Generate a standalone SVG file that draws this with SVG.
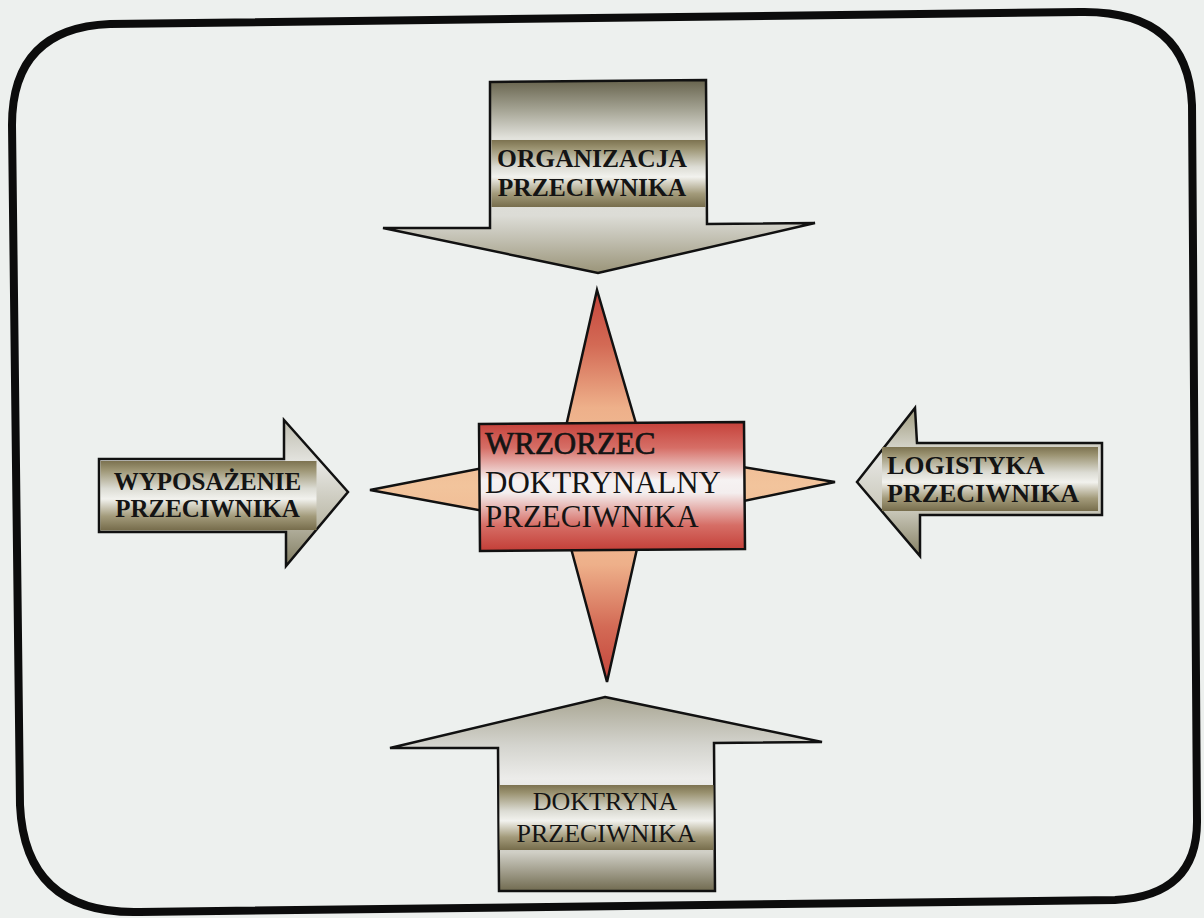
<svg xmlns="http://www.w3.org/2000/svg" width="1204" height="918" viewBox="0 0 1204 918">
<defs>
<style>
.shape{stroke:#111;stroke-width:2.5;stroke-linejoin:miter}
.lbl{font-family:"Liberation Serif","Times New Roman",serif;fill:#141414}
.b{font-weight:bold}
.heavy{stroke:#141414;stroke-width:0.7}
</style>
<linearGradient id="band" x1="0" y1="0" x2="0" y2="1">
<stop offset="0" stop-color="#7c7250"/>
<stop offset="0.12" stop-color="#9a9270"/>
<stop offset="0.4" stop-color="#dcdcd4"/>
<stop offset="0.55" stop-color="#f2f2ee"/>
<stop offset="0.8" stop-color="#a39b7b"/>
<stop offset="1" stop-color="#776d4c"/>
</linearGradient>
<linearGradient id="gTop" gradientUnits="userSpaceOnUse" x1="0" y1="80" x2="0" y2="274">
<stop offset="0" stop-color="#67634d"/>
<stop offset="0.15" stop-color="#a3a292"/>
<stop offset="0.3" stop-color="#e2e2dc"/>
<stop offset="0.7" stop-color="#dcdcd6"/>
<stop offset="0.82" stop-color="#c2c0b2"/>
<stop offset="1" stop-color="#999377"/>
</linearGradient>
<linearGradient id="gLeft" gradientUnits="userSpaceOnUse" x1="0" y1="419" x2="0" y2="570">
<stop offset="0" stop-color="#bdbcae"/>
<stop offset="0.3" stop-color="#e6e6e2"/>
<stop offset="0.65" stop-color="#c0beae"/>
<stop offset="1" stop-color="#7a7558"/>
</linearGradient>
<linearGradient id="gRight" gradientUnits="userSpaceOnUse" x1="0" y1="408" x2="0" y2="556">
<stop offset="0" stop-color="#9f9b7d"/>
<stop offset="0.35" stop-color="#e4e4e0"/>
<stop offset="0.7" stop-color="#c8c6b8"/>
<stop offset="1" stop-color="#858063"/>
</linearGradient>
<linearGradient id="gBot" gradientUnits="userSpaceOnUse" x1="0" y1="697" x2="0" y2="891">
<stop offset="0" stop-color="#a8a592"/>
<stop offset="0.25" stop-color="#d4d4ce"/>
<stop offset="0.42" stop-color="#ececea"/>
<stop offset="0.8" stop-color="#d0cfc6"/>
<stop offset="1" stop-color="#716b50"/>
</linearGradient>
<linearGradient id="gStar" gradientUnits="userSpaceOnUse" x1="0" y1="290" x2="0" y2="682">
<stop offset="0" stop-color="#c4443b"/>
<stop offset="0.14" stop-color="#d36a55"/>
<stop offset="0.3" stop-color="#eeb08a"/>
<stop offset="0.5" stop-color="#f2c49c"/>
<stop offset="0.7" stop-color="#eeb08a"/>
<stop offset="0.86" stop-color="#d36a55"/>
<stop offset="1" stop-color="#c4443b"/>
</linearGradient>
<linearGradient id="gBox" x1="0" y1="0" x2="0" y2="1">
<stop offset="0" stop-color="#c5413a"/>
<stop offset="0.2" stop-color="#d66e66"/>
<stop offset="0.45" stop-color="#f6f2f2"/>
<stop offset="0.55" stop-color="#f4eeee"/>
<stop offset="0.8" stop-color="#d66e66"/>
<stop offset="1" stop-color="#c33e37"/>
</linearGradient>
</defs>
<rect x="0" y="0" width="1204" height="918" fill="#edf0ee"/>
<g id="frame">
<path d="M110 24 L1080 12 Q1188 10 1192 105 L1197 820 Q1198 896 1115 900 L140 912 Q25 915 20 805 L12 125 Q12 28 110 24 Z" fill="none" stroke="#0c0c0c" stroke-width="8"/>
</g>
<g id="connectors"></g>
<g id="node-star">
<polygon class="shape" fill="url(#gStar)" points="597,290 644,451 835,482 643,522 607,682 565,526 370,490 560,453"/>
</g>
<g id="node-center">
<polygon class="shape" fill="url(#gBox)" points="479,424 744,422 745,549 480,551"/>
<text class="lbl heavy" x="485" y="454" font-size="31">WRZORZEC</text>
<text class="lbl" x="485" y="493" font-size="31">DOKTRYNALNY</text>
<text class="lbl" x="485" y="527" font-size="31">PRZECIWNIKA</text>
</g>
<g id="node-organizacja">
<polygon class="shape" fill="url(#gTop)" points="490,82 706,80 707,224 815,223 598,273 383,228 490,228"/>
<rect x="491.5" y="140" width="214" height="67" fill="url(#band)"/>
<text class="lbl b" x="592" y="167" font-size="25.5" text-anchor="middle">ORGANIZACJA</text>
<text class="lbl b" x="592" y="196" font-size="25.5" text-anchor="middle">PRZECIWNIKA</text>
</g>
<g id="node-wyposazenie">
<polygon class="shape" fill="url(#gLeft)" points="99,459 284,459 284,420 348,492 286,566 286,532 99,532"/>
<rect x="100.5" y="461" width="216" height="69" fill="url(#band)"/>
<text class="lbl b" x="207.5" y="490" font-size="25" text-anchor="middle">WYPOSAŻENIE</text>
<text class="lbl b" x="207.5" y="517" font-size="25" text-anchor="middle">PRZECIWNIKA</text>
</g>
<g id="node-logistyka">
<polygon class="shape" fill="url(#gRight)" points="857,482 915,408 917,443 1102,443 1102,515 920,515 920,556"/>
<rect x="882" y="447" width="216" height="64" fill="url(#band)"/>
<text class="lbl b" x="887" y="474" font-size="26">LOGISTYKA</text>
<text class="lbl b" x="887" y="502" font-size="26">PRZECIWNIKA</text>
</g>
<g id="node-doktryna">
<polygon class="shape" fill="url(#gBot)" points="605,697 822,742 714,743 715,891 499,891 498,748 390,748"/>
<rect x="499.5" y="785" width="214" height="65" fill="url(#band)"/>
<text class="lbl" x="605" y="810" font-size="26" text-anchor="middle">DOKTRYNA</text>
<text class="lbl" x="606" y="842" font-size="26" text-anchor="middle">PRZECIWNIKA</text>
</g>
</svg>
